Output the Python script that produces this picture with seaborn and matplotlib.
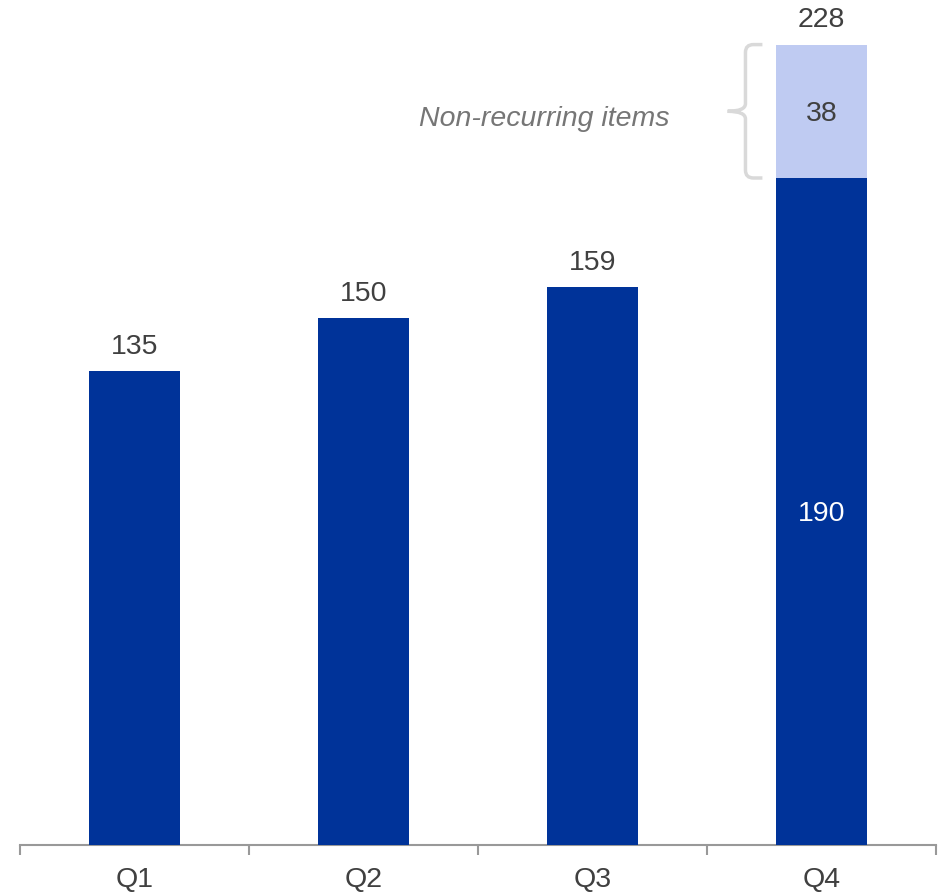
import matplotlib
matplotlib.use("Agg")
import matplotlib.pyplot as plt
import seaborn as sns
import pandas as pd
from matplotlib.path import Path
from matplotlib.patches import PathPatch

quarters = ["Q1", "Q2", "Q3", "Q4"]
recurring = [135, 150, 159, 190]
non_recurring = [0, 0, 0, 38]
totals = [r + n for r, n in zip(recurring, non_recurring)]

dark_blue = "#003399"
light_blue = "#BFCBF2"
text_gray = "#404040"
axis_gray = "#999999"
fs = 20.5

sns.set_style("white")
plt.rcParams["font.family"] = ["Liberation Sans", "DejaVu Sans"]

df = pd.DataFrame({"quarter": quarters, "recurring": recurring, "total": totals})

fig = plt.figure(figsize=(9.39, 8.93), dpi=100)
ax = fig.add_axes([20 / 939, 48 / 893, 916 / 939, 845 / 893])

# totals drawn first in light colour, recurring part on top
sns.barplot(data=df, x="quarter", y="total", color=light_blue, width=0.4,
            saturation=1, linewidth=0, ax=ax, zorder=2)
sns.barplot(data=df, x="quarter", y="recurring", color=dark_blue, width=0.4,
            saturation=1, linewidth=0, ax=ax, zorder=3)

ax.set_xlim(-0.5, 3.5)
ax.set_ylim(0, 240.7)

for sp in ["top", "right", "left"]:
    ax.spines[sp].set_visible(False)
ax.spines["bottom"].set_color(axis_gray)
ax.spines["bottom"].set_linewidth(1.5)
ax.set_yticks([])
ax.set_xlabel("")
ax.set_ylabel("")

ax.set_xticks([-0.5, 0.5, 1.5, 2.5, 3.5])
ax.set_xticklabels([])
ax.set_xticks(range(len(quarters)), minor=True)
ax.set_xticklabels(quarters, minor=True, fontsize=fs, color=text_gray)
ax.tick_params(axis="x", which="major", length=7.5, width=1.5, color=axis_gray,
               direction="out", bottom=True)
ax.tick_params(axis="x", which="minor", length=0, pad=16)

# labels
for i, t in enumerate(totals):
    ax.annotate(str(t), (i, t), xytext=(0, 8), textcoords="offset points",
                ha="center", va="bottom", fontsize=fs, color=text_gray)
ax.text(3, recurring[3] / 2, str(recurring[3]), ha="center", va="center_baseline",
        fontsize=fs, color="white", zorder=4)
ax.text(3, recurring[3] + non_recurring[3] / 2, str(non_recurring[3]),
        ha="center", va="center_baseline", fontsize=fs, color=text_gray, zorder=4)

# curly bracket for non-recurring items
y_top = totals[3]
y_bot = recurring[3]
y_mid = (y_top + y_bot) / 2
xs, xv, xt = 2.742, 2.668, 2.59
dx, dy = 0.035, 2.2
verts = [
    (xs, y_top), (xv + dx, y_top), (xv, y_top), (xv, y_top - dy),
    (xv, y_mid + dy), (xv, y_mid), (xt, y_mid),
    (xv, y_mid), (xv, y_mid - dy),
    (xv, y_bot + dy), (xv, y_bot), (xv + dx, y_bot), (xs, y_bot),
]
codes = [
    Path.MOVETO, Path.LINETO, Path.CURVE3, Path.CURVE3,
    Path.LINETO, Path.CURVE3, Path.CURVE3,
    Path.CURVE3, Path.CURVE3,
    Path.LINETO, Path.CURVE3, Path.CURVE3, Path.LINETO,
]
ax.add_patch(PathPatch(Path(verts, codes), fill=False, edgecolor="#D9D9D9",
                       linewidth=2.5, capstyle="butt", zorder=5))
ax.text(1.79, y_mid - 1.3, "Non-recurring items", ha="center", va="center_baseline",
        fontsize=fs, style="italic", color="#767676")

fig.savefig("out.png", dpi=100)
